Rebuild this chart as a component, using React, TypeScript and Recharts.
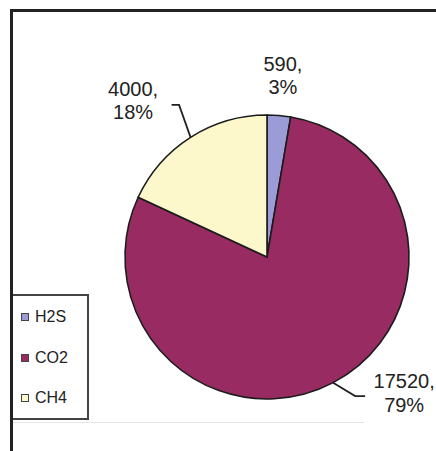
import React from 'react';
import { PieChart, Pie, Cell, Legend } from 'recharts';

// Gas composition
const NAMES = ['H2S', 'CO2', 'CH4'];
const VALUES = [590, 17520, 4000];
const COLORS = ['#9b9bd8', '#982c62', '#fdf8cc'];

const data = NAMES.map((name, i) => ({ name, value: VALUES[i] }));

const FONT = '"Liberation Sans", Arial, Helvetica, sans-serif';
const RADIAN = Math.PI / 180;

// Label placement relative to the point where each slice's mid-angle meets the rim.
// text: first-line baseline; elbow/tail: optional leader line bend and end.
const LABEL_LAYOUT: Record<string, { text: [number, number]; elbow?: [number, number]; tail?: [number, number] }> = {
  H2S: { text: [4, -44.5] },
  CO2: { text: [71, 5.4], elbow: [22, 13.4], tail: [32, 13.4] },
  CH4: { text: [-57.5, -41.4], elbow: [-11.5, -32.4], tail: [-19, -32.4] },
};

const renderLabel = (props: any) => {
  const { cx, cy, midAngle, outerRadius, name, value, percent } = props;
  const ex = cx + outerRadius * Math.cos(-midAngle * RADIAN);
  const ey = cy + outerRadius * Math.sin(-midAngle * RADIAN);
  const layout = LABEL_LAYOUT[name] || { text: [0, -30] };
  const tx = ex + layout.text[0];
  const ty = ey + layout.text[1];
  const pct = Math.round(percent * 100);
  return (
    <g>
      {layout.elbow && layout.tail && (
        <polyline
          points={`${ex},${ey} ${ex + layout.elbow[0]},${ey + layout.elbow[1]} ${ex + layout.tail[0]},${ey + layout.tail[1]}`}
          fill="none"
          stroke="#222"
          strokeWidth={1.8}
        />
      )}
      <text x={tx} y={ty} textAnchor="middle" fontSize={20} fontFamily={FONT} fill="#222">
        <tspan x={tx} dy={0}>{`${value},`}</tspan>
        <tspan x={tx} dy={23.5}>{`${pct}%`}</tspan>
      </text>
    </g>
  );
};

const renderLegend = () => (
  <div
    style={{
      width: 75,
      height: 122,
      borderTop: '2px solid #444',
      borderRight: '2px solid #444',
      borderBottom: '2px solid #444',
      background: '#fff',
      fontFamily: FONT,
      fontSize: 16,
      color: '#222',
      position: 'relative',
    }}
  >
    {NAMES.map((name, i) => (
      <div
        key={name}
        style={{ position: 'absolute', left: 9, top: 12 + i * 40.7, display: 'flex', alignItems: 'center', lineHeight: '18px' }}
      >
        <span
          style={{
            display: 'inline-block',
            width: 6,
            height: 6,
            background: COLORS[i],
            border: '1.5px solid #444',
            marginRight: 6,
          }}
        />
        <span>{name}</span>
      </div>
    ))}
  </div>
);

export default function App() {
  return (
    <div style={{ position: 'absolute', left: 0, top: 0, width: 436, height: 451, background: '#fff', fontFamily: FONT, overflow: 'hidden' }}>
      {/* faint plot-area edge */}
      <div style={{ position: 'absolute', left: 12, top: 422, width: 352, height: 1, background: '#e2e6ea' }} />
      <PieChart width={436} height={451} style={{ position: 'absolute', left: 0, top: 0 }}>
        <Pie
          data={data}
          dataKey="value"
          nameKey="name"
          cx={262}
          cy={252}
          outerRadius={142}
          startAngle={90}
          endAngle={-270}
          stroke="#1c1c1c"
          strokeWidth={1.6}
          label={renderLabel}
          labelLine={false}
          isAnimationActive={false}
        >
          {data.map((d, i) => (
            <Cell key={d.name} fill={COLORS[i]} />
          ))}
        </Pie>
        <Legend
          content={renderLegend}
          wrapperStyle={{ position: 'absolute', left: 12, top: 294, width: 77, height: 126 }}
        />
      </PieChart>
      {/* outer frame */}
      <div style={{ position: 'absolute', left: 10, top: 9, width: 426, height: 3, background: '#222' }} />
      <div style={{ position: 'absolute', left: 10, top: 9, width: 3, height: 442, background: '#222' }} />
    </div>
  );
}
